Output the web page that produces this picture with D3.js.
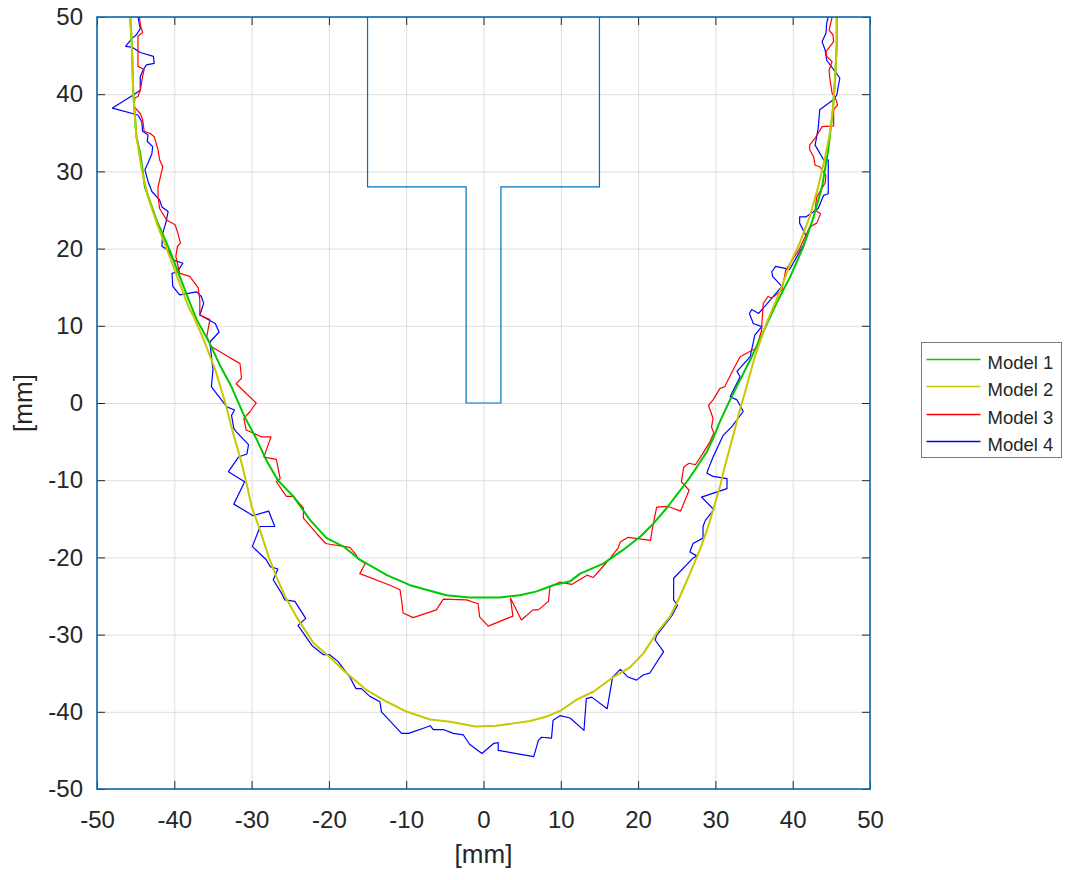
<!DOCTYPE html>
<html>
<head>
<meta charset="utf-8">
<style>
  body { margin: 0; background: #fff; }
  svg { display: block; font-family: "Liberation Sans", Arial, sans-serif; }
</style>
</head>
<body>
<svg width="1067" height="880"></svg>
<script src="https://cdn.jsdelivr.net/npm/d3@7"></script>
<script>

// tool outline (T shape), [x, y] in mm
var tool = [[-15, 50], [-15, 28], [-2.25, 28], [-2.25, 0], [2.25, 0], [2.25, 28], [15, 28], [15, 50]];

var ticks = [-50, -40, -30, -20, -10, 0, 10, 20, 30, 40, 50];

var names = ["Model 1", "Model 2", "Model 3", "Model 4"];
var colors = ["#00c800", "#c8c800", "#ff0000", "#0000ff"];

var model1 = [[-45.7,50.0],[-45.5,46.5],[-45.3,40.0],[-44.9,34.5],[-44.4,32.3],[-43.8,28.0],[-42.3,23.7],[-40.6,19.8],
  [-39.3,16.4],[-38.0,13.0],[-37.1,10.8],[-35.4,7.7],[-34.1,4.9],[-32.6,2.1],[-30.9,-1.8],[-29.3,-4.8],[-28.1,-7.4],
  [-26.6,-10.0],[-24.6,-12.1],[-22.4,-15.2],[-20.3,-17.5],[-18.1,-18.6],[-16.0,-20.3],[-12.5,-22.3],[-9.5,-23.6],
  [-7.4,-24.2],[-4.8,-24.9],[-1.8,-25.2],[2.1,-25.2],[4.7,-24.9],[6.9,-24.4],[9.0,-23.6],[11.2,-23.1],[12.5,-22.1],
  [15.5,-20.8],[18.1,-19.0],[20.3,-17.3],[22.0,-15.6],[23.7,-13.6],[25.0,-11.9],[26.3,-10.2],[27.6,-8.3],[28.9,-6.3],
  [29.7,-4.6],[30.5,-2.6],[31.7,0.0],[33.2,3.0],[34.7,6.0],[36.0,8.8],[37.9,12.9],[39.7,16.4],[41.4,20.3],[42.7,24.1],
  [43.8,28.0],[44.6,32.8],[45.2,38.0],[45.5,42.3],[45.7,46.5],[45.7,50.0]];

var model2 = [[-45.7,50.0],[-45.5,46.5],[-45.3,40.0],[-44.9,34.5],[-44.2,30.2],[-43.4,26.7],[-42.1,22.8],[-40.6,19.0],
  [-39.3,15.5],[-38.2,12.5],[-37.5,11.2],[-36.2,8.2],[-34.7,4.3],[-33.4,0.0],[-32.4,-3.9],[-31.5,-7.0],[-30.7,-10.2],
  [-30.0,-13.4],[-28.9,-16.5],[-27.8,-19.9],[-26.8,-22.5],[-25.7,-25.0],[-24.2,-27.7],[-22.0,-31.1],[-19.9,-32.9],
  [-17.7,-35.0],[-15.1,-37.2],[-12.5,-38.7],[-9.9,-40.0],[-6.9,-41.0],[-4.3,-41.3],[-1.1,-41.9],[1.7,-41.8],[3.9,-41.5],
  [6.0,-41.2],[8.2,-40.6],[9.9,-39.9],[12.1,-38.4],[14.2,-37.4],[16.8,-35.5],[19.0,-34.2],[20.7,-32.4],[22.4,-29.8],
  [24.1,-27.7],[25.4,-25.1],[26.7,-22.1],[28.0,-19.0],[28.9,-16.5],[29.7,-13.9],[30.6,-10.8],[31.2,-8.3],[31.9,-5.7],
  [32.5,-3.5],[33.0,-1.5],[33.8,1.3],[35.1,6.0],[36.6,10.3],[38.4,14.6],[39.7,18.1],[40.9,20.7],[42.2,24.1],[43.3,28.0],
  [44.2,31.9],[44.8,34.9],[45.2,38.0],[45.5,42.3],[45.7,46.5],[45.7,50.0]];

var model3 = [[-44.5,50.0],[-44.4,49.0],[-44.1,48.0],[-44.7,47.5],[-44.7,43.6],[-43.9,43.2],[-44.1,42.3],[-44.4,40.5],
  [-44.7,39.7],[-45.1,39.5],[-45.2,38.4],[-44.4,37.5],[-44.1,36.7],[-43.9,35.2],[-43.1,34.9],[-42.6,34.5],[-42.1,32.8],
  [-41.9,31.5],[-41.5,30.6],[-41.8,29.3],[-42.1,28.0],[-42.1,26.7],[-41.9,25.2],[-41.0,23.7],[-39.9,23.1],[-39.6,22.2],
  [-39.2,20.7],[-39.6,20.3],[-39.8,19.0],[-39.3,16.8],[-38.0,16.4],[-36.9,14.9],[-36.7,13.3],[-36.7,11.4],[-35.4,10.8],
  [-35.8,8.6],[-35.2,7.3],[-33.7,6.4],[-31.5,5.1],[-31.3,3.2],[-32.0,2.5],[-29.4,0.0],[-30.2,-1.1],[-31.0,-2.0],
  [-30.7,-3.5],[-28.7,-4.4],[-27.5,-4.4],[-28.1,-6.1],[-28.4,-7.0],[-26.8,-7.3],[-26.3,-9.8],[-26.8,-10.2],[-25.5,-12.1],
  [-24.6,-12.1],[-23.3,-13.6],[-23.3,-14.9],[-21.6,-16.9],[-20.4,-18.2],[-19.9,-18.3],[-17.3,-18.7],[-16.6,-19.5],
  [-16.2,-20.2],[-15.3,-20.8],[-16.0,-22.1],[-12.1,-23.6],[-10.8,-24.2],[-10.6,-25.5],[-10.4,-27.2],[-9.1,-27.8],
  [-6.1,-26.8],[-5.2,-25.4],[-2.2,-25.5],[-0.7,-26.0],[-0.5,-27.7],[0.6,-28.9],[3.8,-27.6],[3.5,-25.3],[4.9,-28.1],
  [6.4,-26.8],[7.1,-26.8],[8.4,-25.7],[8.6,-23.8],[9.9,-23.2],[11.4,-23.5],[13.4,-22.3],[14.2,-22.6],[15.1,-21.6],
  [16.4,-20.1],[17.4,-18.8],[17.7,-18.0],[18.7,-17.4],[21.6,-17.8],[21.9,-16.0],[22.4,-13.5],[23.9,-13.4],[25.5,-14.0],
  [26.6,-11.3],[25.6,-10.2],[25.9,-8.3],[26.6,-7.8],[27.4,-8.0],[28.4,-6.5],[29.3,-5.0],[29.8,-3.9],[29.5,-3.1],
  [29.7,-2.0],[29.1,-0.3],[29.7,0.4],[30.6,1.9],[31.2,2.1],[32.3,4.3],[33.2,6.0],[34.5,6.7],[35.3,7.1],[36.0,9.5],
  [36.0,10.1],[36.2,12.9],[36.8,13.8],[37.3,13.6],[38.6,14.6],[39.1,17.2],[40.9,20.0],[42.2,22.8],[43.1,23.3],[43.6,24.5],
  [42.9,25.0],[43.1,26.7],[44.2,28.5],[44.3,29.5],[43.5,30.6],[42.9,30.8],[42.7,31.9],[42.2,32.8],[42.2,33.4],[42.9,34.3],
  [43.8,35.8],[45.3,35.9],[45.3,38.0],[45.8,38.6],[45.6,39.3],[45.1,40.1],[44.8,42.1],[44.7,43.1],[45.1,44.2],[44.4,44.9],
  [44.3,45.5],[45.3,46.8],[45.2,47.7],[44.7,48.3],[45.1,50.0]];

var model4 = [[-44.7,50.0],[-44.4,48.5],[-44.9,47.7],[-45.5,47.2],[-46.3,46.2],[-45.5,46.1],[-44.4,45.4],[-42.7,44.9],
  [-42.6,44.0],[-43.6,43.8],[-44.0,43.2],[-44.4,42.3],[-44.4,40.5],[-45.3,39.9],[-48.0,38.2],[-44.7,37.3],[-44.2,36.4],
  [-44.1,35.2],[-43.4,34.7],[-43.5,33.9],[-42.8,33.2],[-42.9,32.3],[-43.4,31.1],[-43.8,30.2],[-43.4,28.7],[-42.9,27.4],
  [-41.9,26.3],[-41.6,25.4],[-40.8,24.8],[-41.1,23.3],[-41.5,22.0],[-41.6,20.3],[-40.8,19.8],[-40.1,18.5],[-38.9,18.1],
  [-39.6,17.0],[-40.3,16.8],[-40.2,15.1],[-39.3,14.0],[-37.1,14.4],[-36.5,13.8],[-36.2,12.9],[-36.7,11.4],[-34.7,10.3],
  [-34.2,9.2],[-35.4,7.9],[-35.0,4.3],[-35.2,2.1],[-33.2,-0.5],[-32.2,-0.9],[-32.6,-1.6],[-32.3,-3.3],[-32.0,-3.7],
  [-30.4,-5.4],[-30.6,-6.6],[-31.7,-7.0],[-33.0,-8.9],[-30.9,-10.2],[-32.3,-13.1],[-29.8,-14.6],[-27.8,-14.0],
  [-27.0,-16.0],[-28.9,-16.0],[-29.9,-18.6],[-28.1,-20.3],[-27.6,-21.2],[-26.6,-21.5],[-27.2,-22.9],[-26.1,-24.7],
  [-25.7,-25.5],[-24.4,-25.7],[-23.0,-27.9],[-24.0,-28.8],[-22.2,-31.4],[-20.7,-32.6],[-19.9,-32.6],[-18.8,-33.5],
  [-17.3,-35.5],[-16.5,-37.0],[-15.8,-37.0],[-14.7,-38.0],[-13.4,-38.7],[-13.2,-40.0],[-10.6,-42.8],[-9.7,-42.8],
  [-7.4,-42.0],[-6.9,-41.8],[-6.5,-42.3],[-5.2,-42.3],[-3.9,-42.8],[-2.6,-43.0],[-1.8,-44.2],[-0.2,-45.4],[1.3,-44.1],
  [1.9,-44.0],[1.9,-45.0],[6.5,-45.8],[7.1,-43.7],[7.5,-43.3],[8.8,-43.4],[9.0,-41.1],[9.9,-40.5],[11.2,-40.8],
  [13.0,-42.4],[13.3,-38.3],[14.0,-38.1],[16.0,-39.6],[16.7,-35.5],[17.7,-34.5],[18.7,-35.5],[19.8,-35.9],[20.7,-35.2],
  [21.5,-35.0],[23.3,-32.2],[22.2,-30.7],[22.4,-30.1],[24.4,-27.5],[25.1,-26.2],[24.6,-25.5],[24.6,-22.7],[27.1,-20.1],
  [27.6,-19.8],[26.7,-19.3],[27.1,-18.2],[28.4,-17.5],[28.4,-16.0],[28.7,-15.2],[29.8,-13.8],[28.2,-12.2],[31.5,-11.1],
  [31.5,-9.8],[29.7,-9.5],[28.9,-9.1],[29.1,-8.5],[29.7,-7.0],[31.0,-4.2],[32.1,-3.1],[33.6,-1.1],[32.8,0.4],[31.9,0.8],
  [33.2,3.4],[32.8,4.1],[34.5,6.0],[35.1,8.8],[36.0,9.9],[34.9,10.3],[34.4,11.6],[34.7,12.1],[35.6,11.6],[38.6,15.1],
  [37.4,16.4],[37.3,17.0],[37.8,17.7],[39.6,17.3],[41.4,20.5],[41.8,21.5],[40.9,23.3],[40.9,24.1],[41.7,24.1],[43.3,25.2],
  [44.0,26.9],[44.6,27.1],[44.6,31.5],[44.0,31.5],[42.9,33.4],[43.3,35.6],[43.5,38.0],[45.3,39.3],[45.7,39.9],[46.1,42.1],
  [44.4,44.4],[44.2,45.7],[43.8,46.8],[44.3,47.9],[44.4,49.2],[44.6,50.0]];

var svg = d3.select("svg"),
    margin = {top: 17, left: 97},
    width = 773,
    height = 772,
    g = svg.append("g").attr("transform", "translate(" + margin.left + "," + margin.top + ")");

var x = d3.scaleLinear().domain([-50, 50]).range([0, width]);
var y = d3.scaleLinear().domain([-50, 50]).range([height, 0]);

var line = d3.line()
    .x(function(d) { return x(d[0]); })
    .y(function(d) { return y(d[1]); });

// plain hyphen for negatives, like the original
var fmt = function(d) { return String(d); };

// grid
g.append("g")
    .attr("transform", "translate(0," + height + ")")
    .call(d3.axisBottom(x).tickValues(ticks).tickSize(-height).tickFormat(""))
    .call(function(s) { s.select(".domain").remove(); s.selectAll("line").attr("stroke", "#dedede"); });
g.append("g")
    .call(d3.axisLeft(y).tickValues(ticks).tickSize(-width).tickFormat(""))
    .call(function(s) { s.select(".domain").remove(); s.selectAll("line").attr("stroke", "#dedede"); });

// curves, drawn so the smooth models sit on top
var order = [3, 2, 0, 1];
var series = [model1, model2, model3, model4];
var widths = [2, 2, 1.2, 1.2];
order.forEach(function(i) {
  g.append("path")
      .datum(series[i])
      .attr("fill", "none")
      .attr("stroke", colors[i])
      .attr("stroke-width", widths[i])
      .attr("stroke-linejoin", "round")
      .attr("d", line);
});

// tool
g.append("path")
    .datum(tool)
    .attr("fill", "none")
    .attr("stroke", "#0072bd")
    .attr("stroke-width", 1.2)
    .attr("d", line);

// axes with inward ticks on all sides
function styleAxis(s) {
  s.select(".domain").remove();
  s.attr("color", "#262626");
  s.selectAll("text").attr("font-size", 24).attr("font-family", "Liberation Sans, Arial, sans-serif").attr("fill", "#262626");
}
g.append("g")
    .attr("transform", "translate(0," + height + ")")
    .call(d3.axisBottom(x).tickValues(ticks).tickSize(-8).tickPadding(22).tickFormat(fmt))
    .call(styleAxis);
g.append("g")
    .call(d3.axisLeft(y).tickValues(ticks).tickSize(-8).tickPadding(14).tickFormat(fmt))
    .call(styleAxis);
g.append("g")
    .call(d3.axisTop(x).tickValues(ticks).tickSize(-8).tickFormat(""))
    .call(styleAxis);
g.append("g")
    .attr("transform", "translate(" + width + ",0)")
    .call(d3.axisRight(y).tickValues(ticks).tickSize(-8).tickFormat(""))
    .call(styleAxis);

// box
g.append("rect")
    .attr("width", width)
    .attr("height", height)
    .attr("fill", "none")
    .attr("stroke", "#0a6aa8")
    .attr("stroke-width", 1.6);

// axis labels
svg.append("text")
    .attr("x", margin.left + width / 2)
    .attr("y", 863)
    .attr("text-anchor", "middle")
    .attr("font-size", 26)
    .attr("fill", "#262626")
    .text("[mm]");
svg.append("text")
    .attr("transform", "translate(32," + (margin.top + height / 2) + ") rotate(-90)")
    .attr("text-anchor", "middle")
    .attr("font-size", 26)
    .attr("fill", "#262626")
    .text("[mm]");

// legend
var legend = svg.append("g").attr("transform", "translate(921.5,342.5)");
legend.append("rect")
    .attr("width", 140)
    .attr("height", 115)
    .attr("fill", "#fff")
    .attr("stroke", "#7a7a7a")
    .attr("stroke-width", 1);
names.forEach(function(n, i) {
  var ly = Math.round(17 + i * 27.3);
  legend.append("line")
      .attr("x1", 5).attr("x2", 59)
      .attr("y1", ly).attr("y2", ly)
      .attr("stroke", colors[i])
      .attr("stroke-width", 1.5);
  legend.append("text")
      .attr("x", 66)
      .attr("y", ly + 9)
      .attr("font-size", 18.5)
      .attr("fill", "#262626")
      .text(n);
});

</script>
</body>
</html>
